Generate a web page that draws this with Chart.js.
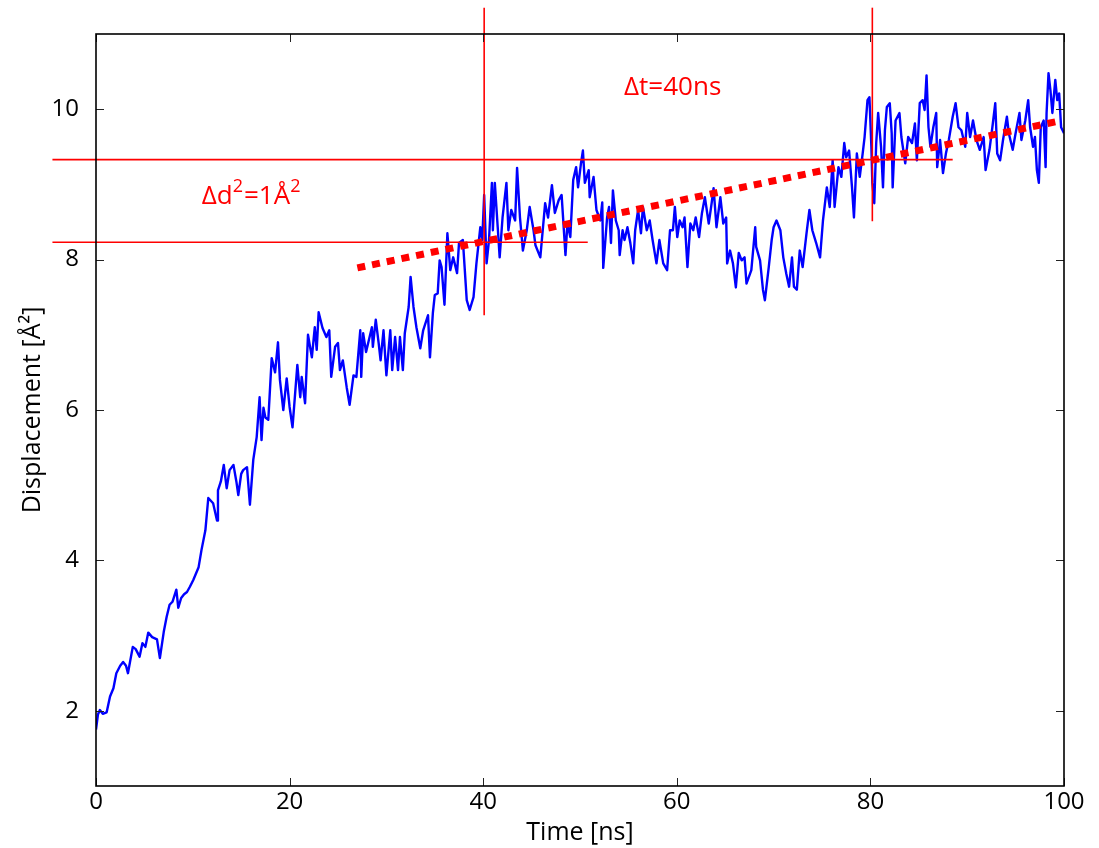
<!DOCTYPE html>
<html>
<head>
<meta charset="utf-8">
<script src="https://cdn.jsdelivr.net/npm/chart.js@4.4.1/dist/chart.umd.min.js"></script>
<style>
html,body{margin:0;padding:0;background:#fff;}
#wrap{width:1099px;height:848px;}
</style>
</head>
<body>
<div id="wrap"><canvas id="c" width="1099" height="848"></canvas></div>
<script>
// ---- data (time in ns, displacement in Å²) ----
const times = [0.0,0.2,0.4,0.7,1.1,1.45,1.8,2.1,2.5,2.8,3.1,3.3,3.8,4.1,4.5,4.8,5.1,5.4,5.8,6.3,6.6,7.0,7.3,7.6,7.9,8.3,8.5,8.8,9.1,9.4,9.7,10.05,10.6,10.9,11.3,11.6,12.1,12.5,12.6,12.9,13.2,13.5,13.8,14.2,14.5,14.7,15.0,15.2,15.6,15.9,16.25,16.6,16.9,17.1,17.3,17.5,17.8,18.15,18.5,18.8,19.0,19.35,19.7,20.0,20.3,20.8,21.1,21.25,21.6,21.9,22.3,22.6,22.8,23.0,23.4,23.8,24.1,24.3,24.7,25.0,25.2,25.5,25.9,26.2,26.6,26.9,27.3,27.4,27.6,27.9,28.5,28.6,28.9,29.2,29.4,29.7,30.0,30.4,30.6,30.9,31.2,31.4,31.7,31.9,32.3,32.5,32.8,33.1,33.5,33.8,34.3,34.5,34.8,35.0,35.3,35.5,35.7,36.0,36.3,36.6,36.9,37.3,37.5,37.9,38.1,38.3,38.6,39.0,39.3,39.7,39.9,40.1,40.35,40.6,40.9,41.0,41.2,41.5,41.7,42.0,42.4,42.6,42.9,43.3,43.5,43.8,44.1,44.5,44.8,45.2,45.4,45.9,46.4,46.7,47.1,47.4,47.8,48.1,48.5,48.7,49.0,49.3,49.6,49.8,50.1,50.3,50.5,50.9,51.0,51.4,51.7,52.1,52.3,52.4,52.8,53.0,53.2,53.4,53.7,54.0,54.1,54.4,54.6,54.9,55.2,55.5,55.7,56.0,56.3,56.5,56.9,57.2,57.5,57.9,58.2,58.6,59.0,59.3,59.6,59.8,60.05,60.3,60.6,60.8,61.1,61.4,61.7,61.95,62.3,62.6,62.9,63.3,63.6,63.8,64.1,64.5,64.8,65.1,65.2,65.5,65.8,66.1,66.4,66.7,67.0,67.2,67.7,68.1,68.2,68.6,68.9,69.1,69.5,69.8,70.0,70.3,70.7,71.0,71.3,71.6,71.9,72.1,72.4,72.7,73.0,73.4,73.7,74.0,74.4,74.8,75.1,75.5,75.8,76.1,76.3,76.7,77.0,77.3,77.5,77.8,78.1,78.3,78.6,78.9,79.2,79.4,79.7,79.9,80.1,80.2,80.4,80.6,80.8,81.1,81.3,81.5,81.7,82.0,82.2,82.3,82.6,83.0,83.2,83.6,83.9,84.3,84.6,84.8,85.1,85.4,85.6,85.8,86.0,86.2,86.5,86.8,86.9,87.2,87.5,87.8,88.1,88.5,88.8,89.1,89.4,89.8,90.0,90.3,90.6,90.96,91.3,91.7,91.9,92.3,92.6,92.9,93.1,93.4,93.7,94.1,94.3,94.7,95.0,95.4,95.6,96.0,96.3,96.5,96.8,97.0,97.2,97.4,97.6,97.9,98.1,98.2,98.4,98.6,98.8,99.1,99.3,99.5,99.7,100];
const disp = [1.75,1.95,2.01,1.96,1.98,2.19,2.3,2.5,2.6,2.65,2.6,2.5,2.85,2.82,2.72,2.9,2.85,3.04,2.98,2.95,2.7,3.05,3.25,3.41,3.45,3.61,3.37,3.5,3.55,3.58,3.65,3.74,3.91,4.14,4.4,4.83,4.76,4.53,4.93,5.05,5.27,4.96,5.2,5.27,5.05,4.87,5.15,5.2,5.24,4.74,5.34,5.64,6.17,5.6,6.03,5.9,5.87,6.69,6.5,6.9,6.4,6.0,6.42,6.04,5.77,6.6,6.17,6.44,6.09,7.0,6.7,7.1,6.8,7.3,7.09,6.97,7.06,6.44,6.84,6.89,6.53,6.66,6.3,6.07,6.46,6.44,7.06,6.44,7.02,6.77,7.1,6.84,7.2,6.89,6.66,7.06,6.46,7.06,6.53,6.97,6.53,6.97,6.53,7.02,7.37,7.77,7.37,7.1,6.82,7.06,7.26,6.7,7.29,7.53,7.55,7.99,7.9,7.4,8.35,7.86,8.03,7.82,8.22,8.26,7.86,7.46,7.33,7.5,7.95,8.43,8.26,8.86,7.95,8.26,9.02,8.39,9.02,8.43,8.03,8.56,9.02,8.39,8.66,8.52,9.22,8.56,8.12,8.39,8.7,8.39,8.19,8.03,8.75,8.56,8.99,8.62,8.79,8.86,8.06,8.48,8.3,9.06,9.23,8.96,9.28,9.45,9.02,9.19,8.83,9.1,8.66,8.52,8.76,7.89,8.56,8.7,8.22,8.92,8.52,8.39,8.06,8.39,8.26,8.43,8.22,7.95,8.39,8.66,8.35,8.7,8.39,8.52,8.26,7.95,8.26,7.95,7.86,8.39,8.39,8.7,8.3,8.52,8.43,8.56,7.9,8.48,8.39,8.56,8.3,8.62,8.83,8.48,8.75,8.95,8.43,8.83,8.48,8.56,7.95,8.12,7.95,7.63,8.09,7.99,8.03,7.68,7.86,8.43,8.17,7.99,7.6,7.46,7.9,8.26,8.43,8.52,8.39,8.03,7.82,7.64,8.03,7.64,7.6,8.12,7.9,8.35,8.66,8.39,8.22,8.03,8.52,8.96,8.7,9.32,8.7,9.23,9.1,9.55,9.36,9.45,8.96,8.56,9.41,9.1,9.41,9.63,10.12,10.16,9.5,9.02,8.75,9.55,9.95,9.5,8.96,9.72,10.03,10.08,9.68,8.96,9.85,9.95,9.63,9.28,9.63,9.55,9.81,9.32,10.08,10.12,9.99,10.45,9.76,9.5,9.76,9.95,9.23,9.59,9.15,9.41,9.59,9.9,10.08,9.76,9.72,9.5,9.95,9.63,9.85,9.59,9.46,9.63,9.19,9.46,9.76,10.08,9.41,9.32,9.59,9.9,9.68,9.46,9.68,9.95,9.59,9.85,10.12,9.76,9.5,9.63,9.19,9.02,9.76,9.85,9.23,9.95,10.48,10.25,9.95,10.39,10.12,10.21,9.76,9.68];

const xTicks = [0, 20, 40, 60, 80, 100];
const yTicks = [2, 4, 6, 8, 10];

// reference annotations (data units)
const levelValues = [8.23, 9.33];      // horizontal Δd² levels
const levelFrom = [-4.5, -4.5];
const levelTo = [50.8, 88.5];
const markTimes = [40.1, 80.2];        // vertical Δt markers
const markFrom = [7.26, 8.51];
const markTo = [11.35, 11.35];
const trendTimes = [27.0, 99.8];       // fitted slope
const trendValues = [7.89, 9.85];
const labelDt = {text: 'Δt=40ns', x: 54.55, y: 10.19};
const labelDd = {x: 10.92, y: 8.735};

const RED = '#ff0000';
const FONT = '"Open Sans", "DejaVu Sans", sans-serif';

const datasets = [];
datasets.push({
  data: trendTimes.map((t, i) => ({x: t, y: trendValues[i]})),
  borderColor: RED, borderWidth: 7, borderDash: [8, 7], borderCapStyle: 'butt',
  pointRadius: 0, clip: false, order: 1
});
levelValues.forEach((v, i) => datasets.push({
  data: [{x: levelFrom[i], y: v}, {x: levelTo[i], y: v}],
  borderColor: RED, borderWidth: 1.6, pointRadius: 0, clip: false, order: 2
}));
markTimes.forEach((t, i) => datasets.push({
  data: [{x: t, y: markFrom[i]}, {x: t, y: markTo[i]}],
  borderColor: RED, borderWidth: 1.6, pointRadius: 0, clip: false, order: 2
}));
datasets.push({
  data: times.map((t, i) => ({x: t, y: disp[i]})),
  borderColor: '#0000ff', borderWidth: 2.4, pointRadius: 0, tension: 0,
  borderJoinStyle: 'round', order: 10
});

const framePlugin = {
  id: 'frame',
  afterDraw(chart) {
    const {ctx, chartArea: a, scales: {x, y}} = chart;
    ctx.save();
    // inward ticks on all four sides
    ctx.strokeStyle = '#222';
    ctx.lineWidth = 1;
    const L = 8;
    ctx.beginPath();
    xTicks.forEach(v => {
      const px = Math.round(x.getPixelForValue(v)) + 0.5;
      ctx.moveTo(px, a.bottom); ctx.lineTo(px, a.bottom - L);
      ctx.moveTo(px, a.top); ctx.lineTo(px, a.top + L);
    });
    yTicks.forEach(v => {
      const py = Math.round(y.getPixelForValue(v)) + 0.5;
      ctx.moveTo(a.left, py); ctx.lineTo(a.left + L, py);
      ctx.moveTo(a.right, py); ctx.lineTo(a.right - L, py);
    });
    ctx.stroke();
    // frame
    ctx.strokeStyle = '#000';
    ctx.lineWidth = 1.6;
    ctx.strokeRect(a.left, a.top, a.right - a.left, a.bottom - a.top);
    // annotation texts
    ctx.fillStyle = RED;
    ctx.textBaseline = 'alphabetic';
    ctx.textAlign = 'left';
    ctx.font = '26px ' + FONT;
    ctx.fillText(labelDt.text, x.getPixelForValue(labelDt.x), y.getPixelForValue(labelDt.y));
    // Δd²=1Å² with raised superscripts
    let px = x.getPixelForValue(labelDd.x);
    const py = y.getPixelForValue(labelDd.y);
    const parts = [['Δd', 26, 0], ['2', 18, -12], ['=1Å', 26, 0], ['2', 18, -12]];
    parts.forEach(([t, s, dy]) => {
      ctx.font = s + 'px ' + FONT;
      ctx.fillText(t, px, py + dy);
      px += ctx.measureText(t).width + (s < 26 ? 1 : 0);
    });
    ctx.restore();
  }
};

new Chart(document.getElementById('c'), {
  type: 'line',
  data: {datasets},
  options: {
    responsive: false,
    animation: false,
    layout: {padding: {left: 0, right: 35, top: 34, bottom: 0}},
    plugins: {legend: {display: false}, tooltip: {enabled: false}},
    scales: {
      x: {
        type: 'linear', min: 0, max: 100,
        afterBuildTicks: s => { s.ticks = xTicks.map(v => ({value: v})); },
        afterFit: s => { s.height = 62; },
        grid: {display: false, drawTicks: false},
        border: {display: false},
        ticks: {color: '#000', font: {family: FONT, size: 24}, padding: 2, maxRotation: 0},
        title: {display: true, text: 'Time [ns]', color: '#000', font: {family: FONT, size: 25}, padding: {top: 0, bottom: 0}}
      },
      y: {
        type: 'linear', min: 1, max: 11,
        afterBuildTicks: s => { s.ticks = yTicks.map(v => ({value: v})); },
        afterFit: s => { s.width = 96; },
        grid: {display: false, drawTicks: false},
        border: {display: false},
        ticks: {color: '#000', font: {family: FONT, size: 24}, padding: 17},
        title: {display: true, text: 'Displacement [Å²]', color: '#000', font: {family: FONT, size: 25}, padding: {top: 18, bottom: 0}}
      }
    }
  },
  plugins: [framePlugin]
});
</script>
</body>
</html>
